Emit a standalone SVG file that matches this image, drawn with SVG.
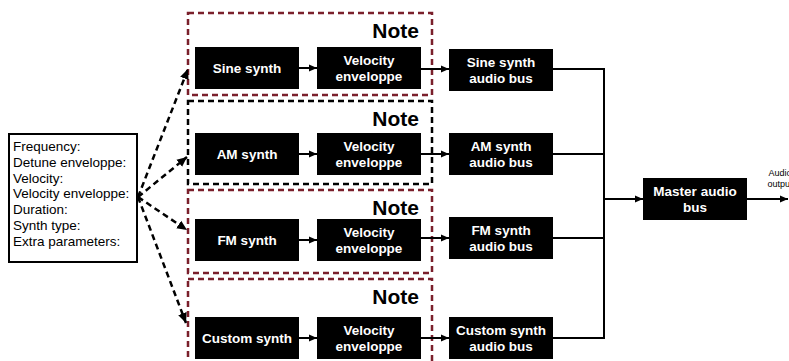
<svg xmlns="http://www.w3.org/2000/svg" width="789" height="361" viewBox="0 0 789 361">
<defs>
<marker id="ah" viewBox="0 0 10 10" refX="10" refY="5" markerWidth="10" markerHeight="10" markerUnits="userSpaceOnUse" orient="auto"><path d="M0,0.5 L10,5 L0,9.5 Z" fill="#000"/></marker>
<marker id="ahs" viewBox="0 0 10 10" refX="10" refY="5" markerWidth="8" markerHeight="8" markerUnits="userSpaceOnUse" orient="auto"><path d="M0,0.5 L10,5 L0,9.5 Z" fill="#000"/></marker>
</defs>
<style>
.blk{fill:#000}
.bt{fill:#fff;font-family:"Liberation Sans",Arial,sans-serif;font-weight:bold;font-size:13.5px;text-anchor:middle}
.note{fill:none;stroke-width:2.5;stroke-dasharray:6 4}
.red{stroke:#7a1f2b}
.bk{stroke:#000}
.nl{font-family:"Liberation Sans",Arial,sans-serif;font-weight:bold;font-size:21px;text-anchor:end;fill:#000}
.ln{fill:none;stroke:#000;stroke-width:2}
.da{fill:none;stroke:#000;stroke-width:2.5;stroke-dasharray:6 4}
.it{font-family:"Liberation Sans",Arial,sans-serif;font-size:13.5px;fill:#000}
.ot{font-family:"Liberation Sans",Arial,sans-serif;font-size:9px;fill:#000;text-anchor:middle}
</style>
<g id="note1"><rect class="note red" x="188" y="13" width="244" height="82"/><text class="nl" x="419" y="38">Note</text></g>
<g id="note2"><rect class="note bk" x="188" y="101" width="244" height="83"/><text class="nl" x="419" y="126">Note</text></g>
<g id="note3"><rect class="note red" x="188" y="190" width="244" height="83"/><text class="nl" x="419" y="215">Note</text></g>
<g id="note4"><rect class="note red" x="188" y="279" width="244" height="90"/><text class="nl" x="419" y="304">Note</text></g>

<g id="input"><rect x="9" y="134" width="128" height="128" fill="#fff" stroke="#000" stroke-width="2"/>
<text class="it" x="13" y="151">Frequency:</text>
<text class="it" x="13" y="166.8">Detune enveloppe:</text>
<text class="it" x="13" y="182.6">Velocity:</text>
<text class="it" x="13" y="198.4">Velocity enveloppe:</text>
<text class="it" x="13" y="214.2">Duration:</text>
<text class="it" x="13" y="230">Synth type:</text>
<text class="it" x="13" y="245.8">Extra parameters:</text>
</g>

<g id="sine"><rect class="blk" x="195" y="47" width="104" height="42"/><text class="bt" x="247" y="73">Sine synth</text></g>
<g id="vel1"><rect class="blk" x="317" y="47" width="104" height="42"/><text class="bt" x="369" y="64.5">Velocity</text><text class="bt" x="369" y="80.5">enveloppe</text></g>
<g id="bus1"><rect class="blk" x="449" y="49" width="104" height="42"/><text class="bt" x="501" y="66.5">Sine synth</text><text class="bt" x="501" y="82.5">audio bus</text></g>

<g id="am"><rect class="blk" x="195" y="133" width="104" height="42"/><text class="bt" x="247" y="159">AM synth</text></g>
<g id="vel2"><rect class="blk" x="317" y="133" width="104" height="42"/><text class="bt" x="369" y="150.5">Velocity</text><text class="bt" x="369" y="166.5">enveloppe</text></g>
<g id="bus2"><rect class="blk" x="449" y="133" width="104" height="42"/><text class="bt" x="501" y="150.5">AM synth</text><text class="bt" x="501" y="166.5">audio bus</text></g>

<g id="fm"><rect class="blk" x="195" y="219" width="104" height="42"/><text class="bt" x="247" y="245">FM synth</text></g>
<g id="vel3"><rect class="blk" x="317" y="219" width="104" height="42"/><text class="bt" x="369" y="236.5">Velocity</text><text class="bt" x="369" y="252.5">enveloppe</text></g>
<g id="bus3"><rect class="blk" x="449" y="217" width="104" height="42"/><text class="bt" x="501" y="234.5">FM synth</text><text class="bt" x="501" y="250.5">audio bus</text></g>

<g id="custom"><rect class="blk" x="195" y="317" width="104" height="42"/><text class="bt" x="247" y="343">Custom synth</text></g>
<g id="vel4"><rect class="blk" x="317" y="317" width="104" height="42"/><text class="bt" x="369" y="334.5">Velocity</text><text class="bt" x="369" y="350.5">enveloppe</text></g>
<g id="bus4"><rect class="blk" x="449" y="317" width="104" height="42"/><text class="bt" x="501" y="334.5">Custom synth</text><text class="bt" x="501" y="350.5">audio bus</text></g>

<g id="master"><rect class="blk" x="643" y="178" width="104" height="42"/><text class="bt" x="695" y="195.5">Master audio</text><text class="bt" x="695" y="211.5">bus</text></g>

<g id="connectors">
<path class="da" d="M138,197 L188,69" marker-end="url(#ah)"/>
<path class="da" d="M138,197 L187,157" marker-end="url(#ah)"/>
<path class="da" d="M138,197 L187,230" marker-end="url(#ah)"/>
<path class="da" d="M138,197 L186,323" marker-end="url(#ah)"/>

<path class="ln" d="M299,68 L317,68" marker-end="url(#ahs)"/>
<path class="ln" d="M421,69 L449,69" marker-end="url(#ahs)"/>
<path class="ln" d="M299,154 L317,154" marker-end="url(#ahs)"/>
<path class="ln" d="M421,154 L449,154" marker-end="url(#ahs)"/>
<path class="ln" d="M299,240 L317,240" marker-end="url(#ahs)"/>
<path class="ln" d="M421,238 L449,238" marker-end="url(#ahs)"/>
<path class="ln" d="M299,338 L317,338" marker-end="url(#ahs)"/>
<path class="ln" d="M421,338 L449,338" marker-end="url(#ahs)"/>

<path class="ln" d="M553,69 L604,69 L604,338 L553,338"/>
<path class="ln" d="M553,154 L604,154"/>
<path class="ln" d="M553,238 L604,238"/>
<path class="ln" d="M604,199 L643,199" marker-end="url(#ahs)"/>
<path class="ln" d="M747,199 L788,199" marker-end="url(#ahs)"/>
<text class="ot" x="780" y="176">Audio</text>
<text class="ot" x="780" y="187">output</text>
</g>
</svg>
